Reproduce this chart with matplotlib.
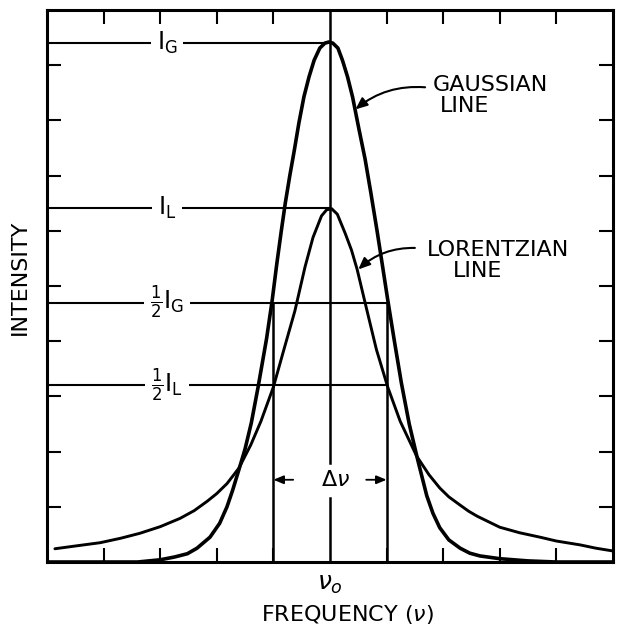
import matplotlib
matplotlib.use("Agg")
import matplotlib.pyplot as plt

plt.rcParams["font.family"] = ["DejaVu Sans"]
plt.rcParams["mathtext.fontset"] = "dejavusans"

# curves (x in divisions from line centre, y in divisions)
gauss_x = [-5.0, -3.4, -3.0, -2.75, -2.52, -2.35, -2.12, -1.95, -1.82, -1.72, -1.61,
           -1.50, -1.39, -1.27, -1.12, -1.02, -0.94, -0.86, -0.79, -0.71, -0.63,
           -0.55, -0.46, -0.37, -0.28, -0.18, -0.09, -0.02, 0.05, 0.14, 0.22, 0.31,
           0.40, 0.51, 0.62, 0.72, 0.83, 0.93, 1.02, 1.13, 1.26, 1.40, 1.55, 1.71,
           1.82, 1.94, 2.10, 2.30, 2.47, 2.65, 3.0, 3.5, 4.0, 5.0]
gauss_y = [0.0, 0.0, 0.04, 0.09, 0.15, 0.25, 0.45, 0.70, 1.00, 1.30, 1.67,
           2.05, 2.52, 3.17, 4.05, 4.75, 5.40, 6.00, 6.50, 7.00, 7.46,
           7.95, 8.43, 8.79, 9.09, 9.31, 9.40, 9.42, 9.40, 9.31, 9.09, 8.79,
           8.42, 7.85, 7.30, 6.70, 6.01, 5.35, 4.75, 4.05, 3.25, 2.50, 1.85, 1.20,
           0.88, 0.62, 0.40, 0.25, 0.16, 0.11, 0.06, 0.02, 0.0, 0.0]

lorentz_x = [-4.86, -4.50, -4.06, -3.70, -3.36, -3.00, -2.65, -2.40, -2.17, -2.00,
             -1.82, -1.61, -1.40, -1.22, -1.00, -0.80, -0.62, -0.44, -0.30, -0.15,
             -0.06, 0.03, 0.13, 0.27, 0.38, 0.48, 0.65, 0.82, 1.02, 1.24, 1.53,
             1.75, 1.94, 2.10, 2.30, 2.45, 2.60, 3.00, 3.35, 3.71, 4.00, 4.42,
             4.70, 5.00]
lorentz_y = [0.24, 0.29, 0.35, 0.43, 0.52, 0.64, 0.79, 0.93, 1.10, 1.24,
             1.42, 1.70, 2.12, 2.55, 3.17, 3.90, 4.55, 5.35, 5.88, 6.27,
             6.38, 6.40, 6.30, 5.95, 5.65, 5.30, 4.57, 3.85, 3.17, 2.55, 1.92,
             1.58, 1.34, 1.18, 1.03, 0.92, 0.83, 0.63, 0.53, 0.45, 0.38, 0.31,
             0.25, 0.20]

I_G = 9.4
I_L = 6.41
half_width = 1.0
x_ticks = [-4, -3, -2, -1, 1, 2, 3, 4]
y_ticks = [1, 2, 3, 4, 5, 6, 7, 8, 9]

fig = plt.figure(figsize=(6.19, 6.29), dpi=100)
ax = fig.add_axes([0.0759, 0.1065, 0.9144, 0.8776])
ax.set_xlim(-5, 5)
ax.set_ylim(0, 10)

# reference lines
line_kw = dict(color="black", lw=1.5, zorder=2)
ax.plot([-5, 0], [I_G, I_G], **line_kw)
ax.plot([-5, 0], [I_L, I_L], **line_kw)
ax.plot([-5, half_width], [I_G / 2, I_G / 2], **line_kw)
ax.plot([-5, half_width], [I_L / 2, I_L / 2], **line_kw)

# vertical lines: centre (with gap for the label) and half widths
dnu_y = 1.49
ax.plot([0, 0], [0, 1.16], color="black", lw=1.8)
ax.plot([0, 0], [1.79, 10], color="black", lw=1.8)
ax.plot([-half_width, -half_width], [0, I_G / 2], color="black", lw=1.8)
ax.plot([half_width, half_width], [0, I_G / 2], color="black", lw=1.8)

# line shapes
ax.plot(gauss_x, gauss_y, color="black", lw=2.6, solid_joinstyle="round",
        solid_capstyle="round", zorder=3)
ax.plot(lorentz_x, lorentz_y, color="black", lw=2.1, solid_joinstyle="round",
        solid_capstyle="round", zorder=3)

# level labels sitting in gaps of the horizontal lines
box = dict(facecolor="white", edgecolor="none", pad=4)
lab_x = -2.88
ax.text(lab_x, I_G, r"I$_\mathrm{G}$", fontsize=17, ha="center", va="center", bbox=box, zorder=4)
ax.text(lab_x, I_L, r"I$_\mathrm{L}$", fontsize=17, ha="center", va="center", bbox=box, zorder=4)
ax.text(lab_x, I_G / 2, r"$\frac{1}{2}$I$_\mathrm{G}$", fontsize=17, ha="center", va="center", bbox=box, zorder=4)
ax.text(lab_x, I_L / 2, r"$\frac{1}{2}$I$_\mathrm{L}$", fontsize=17, ha="center", va="center", bbox=box, zorder=4)

# delta nu with arrows
ax.text(0.09, dnu_y, r"$\Delta\nu$", fontsize=16, ha="center", va="center")
arr = dict(arrowstyle="-|>,head_length=0.6,head_width=0.25", color="black", lw=1.3, shrinkA=0, shrinkB=0)
ax.annotate("", xy=(-half_width, dnu_y), xytext=(-0.65, dnu_y), arrowprops=arr)
ax.annotate("", xy=(half_width, dnu_y), xytext=(0.64, dnu_y), arrowprops=arr)

# curve names with pointers
ax.text(1.82, 8.64, "GAUSSIAN", fontsize=16, ha="left", va="center")
ax.text(1.94, 8.26, "LINE", fontsize=16, ha="left", va="center")
ax.text(1.71, 5.65, "LORENTZIAN", fontsize=16, ha="left", va="center")
ax.text(2.17, 5.27, "LINE", fontsize=16, ha="left", va="center")
ptr = dict(arrowstyle="-|>,head_length=0.7,head_width=0.3", color="black", lw=1.5,
           shrinkA=0, shrinkB=0, connectionstyle="arc3,rad=0.2")
ax.annotate("", xy=(0.45, 8.2), xytext=(1.68, 8.6), arrowprops=ptr)
ax.annotate("", xy=(0.50, 5.3), xytext=(1.50, 5.69), arrowprops=ptr)

# centre frequency label
ax.annotate(r"$\nu_o$", xy=(0, 0), xytext=(0, -16), textcoords="offset points",
            fontsize=18, ha="center", va="center", annotation_clip=False)

# frame and ticks
for s in ax.spines.values():
    s.set_linewidth(2.2)
ax.set_xticks(x_ticks)
ax.set_yticks(y_ticks)
ax.tick_params(direction="in", length=10, width=1.5, top=True, right=True,
               labelbottom=False, labelleft=False)

fig.text(347 / 619, 1 - 615 / 629, r"FREQUENCY ($\nu$)", fontsize=16, ha="center", va="center")
fig.text(20 / 619, 1 - 277 / 629, "INTENSITY", fontsize=16, ha="center", va="center", rotation=90)

fig.savefig("out.png", dpi=100)
